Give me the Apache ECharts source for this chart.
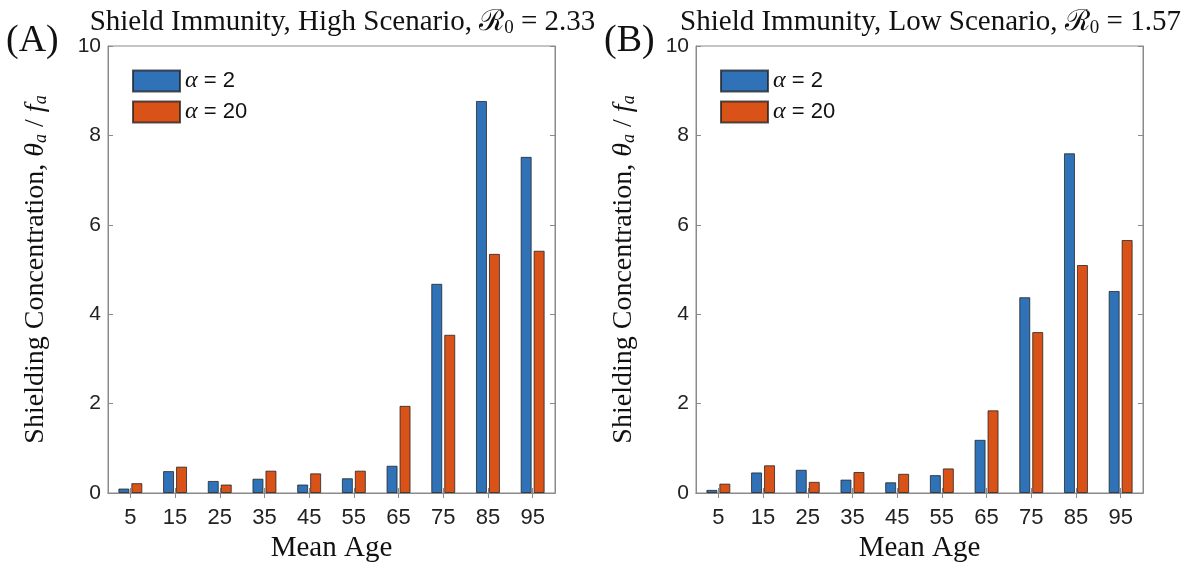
<!DOCTYPE html>
<html>
<head>
<meta charset="utf-8">
<script src="https://cdn.jsdelivr.net/npm/echarts@6/dist/echarts.min.js"></script>
<style>
  html, body { margin: 0; padding: 0; background: #fff; }
  #chart { width: 1193px; height: 564px; }
</style>
</head>
<body>
<div id="chart"></div>
<script>
// 数据
var ages = ['5', '15', '25', '35', '45', '55', '65', '75', '85', '95'];
var highA2 = [0.10, 0.49, 0.27, 0.32, 0.19, 0.33, 0.61, 4.68, 8.77, 7.52];
var highA20 = [0.22, 0.59, 0.19, 0.50, 0.44, 0.50, 1.95, 3.54, 5.35, 5.42];
var lowA2 = [0.07, 0.46, 0.52, 0.30, 0.24, 0.40, 1.19, 4.38, 7.60, 4.52];
var lowA20 = [0.21, 0.62, 0.25, 0.47, 0.43, 0.55, 1.85, 3.60, 5.10, 5.66];
var yTicks = [0, 10, 2];

var serif = '"Liberation Serif", "DejaVu Serif", serif';
var sans = '"Liberation Sans", Arial, sans-serif';
var blue = '#2f72b7';
var orange = '#d95319';
var axisGray = '#8a8a8a';

var plotW = 447, plotH = 447, plotTop = 46;
var lefts = [108, 696];

var chart = echarts.init(document.getElementById('chart'));

var titleRich = {
  a: { fontFamily: serif, fontSize: 29, fontWeight: 'normal', color: '#111', lineHeight: 32 },
  s: { fontFamily: serif, fontSize: 19, fontWeight: 'normal', color: '#111', lineHeight: 19, verticalAlign: 'bottom' }
};
var nameRich = {
  t: { fontFamily: serif, fontSize: 28, color: '#111' },
  i: { fontFamily: serif, fontSize: 28, fontStyle: 'italic', color: '#111' },
  s: { fontFamily: serif, fontSize: 18, fontStyle: 'italic', color: '#111', padding: [11, 0, 0, 0] }
};

var grids = [], xAxes = [], yAxes = [], titles = [], legends = [];
var panelTitles = [
  '{a|Shield Immunity, High Scenario, ℛ}{s|0}{a| = 2.33}',
  '{a|Shield Immunity, Low Scenario, ℛ}{s|0}{a| = 1.57}'
];

for (var p = 0; p < 2; p++) {
  grids.push({
    left: lefts[p], top: plotTop, width: plotW, height: plotH,
    outerBoundsMode: 'none',
    show: true, borderColor: axisGray, borderWidth: 1, backgroundColor: '#fff'
  });
  // 下方 x 轴
  xAxes.push({
    type: 'category', gridIndex: p, data: ages, position: 'bottom',
    axisLine: { show: true, lineStyle: { color: axisGray } },
    axisTick: { show: true, inside: true, alignWithLabel: true, length: 5, lineStyle: { color: axisGray } },
    axisLabel: { color: '#222', fontFamily: sans, fontSize: 22, margin: 14 },
    name: 'Mean Age', nameLocation: 'middle', nameGap: 40,
    nameTextStyle: { fontFamily: serif, fontSize: 29, color: '#111' }
  });
  // 上方镜像刻度
  xAxes.push({
    type: 'category', gridIndex: p, data: ages, position: 'top',
    axisLine: { show: true, lineStyle: { color: axisGray } },
    axisTick: { show: true, inside: true, alignWithLabel: true, length: 5, lineStyle: { color: axisGray } },
    axisLabel: { show: false }
  });
  yAxes.push({
    type: 'value', gridIndex: p, position: 'left',
    min: yTicks[0], max: yTicks[1], interval: yTicks[2],
    splitLine: { show: false },
    axisLine: { show: true, lineStyle: { color: axisGray } },
    axisTick: { show: true, inside: true, length: 5, lineStyle: { color: axisGray } },
    axisLabel: { color: '#222', fontFamily: sans, fontSize: 21, margin: 7 },
    name: '{t|Shielding Concentration, }{i|θ}{s|a}{t| / }{i|f}{s|a}',
    nameLocation: 'middle', nameGap: 58, nameRotate: 90,
    nameTextStyle: { rich: nameRich }
  });
  yAxes.push({
    type: 'value', gridIndex: p, position: 'right',
    min: yTicks[0], max: yTicks[1], interval: yTicks[2],
    splitLine: { show: false },
    axisLine: { show: true, lineStyle: { color: axisGray } },
    axisTick: { show: true, inside: true, length: 5, lineStyle: { color: axisGray } },
    axisLabel: { show: false }
  });
  titles.push({
    text: panelTitles[p], left: lefts[p] + plotW / 2 + 6, top: 1, textAlign: 'center',
    textStyle: { rich: titleRich }
  });
  legends.push({
    orient: 'vertical', left: lefts[p] + 19, top: 64,
    icon: 'rect',
    itemWidth: 47, itemHeight: 21, itemGap: 7,
    data: ['a2', 'a20'],
    formatter: function (name) {
      return name === 'a2' ? '{i|α}{t| = 2}' : '{i|α}{t| = 20}';
    },
    textStyle: {
      rich: {
        i: { fontFamily: serif, fontStyle: 'italic', fontSize: 24, color: '#111' },
        t: { fontFamily: sans, fontSize: 22, color: '#111' }
      }
    }
  });
}

function barSeries(name, xi, yi, data, color) {
  return {
    name: name, type: 'bar', xAxisIndex: xi, yAxisIndex: yi, data: data,
    barWidth: 11, barGap: '18%',
    itemStyle: { color: color, borderColor: 'rgba(30,30,30,0.75)', borderWidth: 1 }
  };
}

var option = {
  animation: false,
  backgroundColor: '#fff',
  title: titles,
  legend: legends,
  grid: grids,
  xAxis: xAxes,
  yAxis: yAxes,
  graphic: [
    { type: 'text', left: 6, top: 22, style: { text: '(A)', font: '38px ' + serif, fill: '#111' } },
    { type: 'text', left: 604, top: 22, style: { text: '(B)', font: '38px ' + serif, fill: '#111' } }
  ],
  series: [
    barSeries('a2', 0, 0, highA2, blue),
    barSeries('a20', 0, 0, highA20, orange),
    barSeries('a2', 2, 2, lowA2, blue),
    barSeries('a20', 2, 2, lowA20, orange)
  ]
};
chart.setOption(option);
</script>
</body>
</html>
